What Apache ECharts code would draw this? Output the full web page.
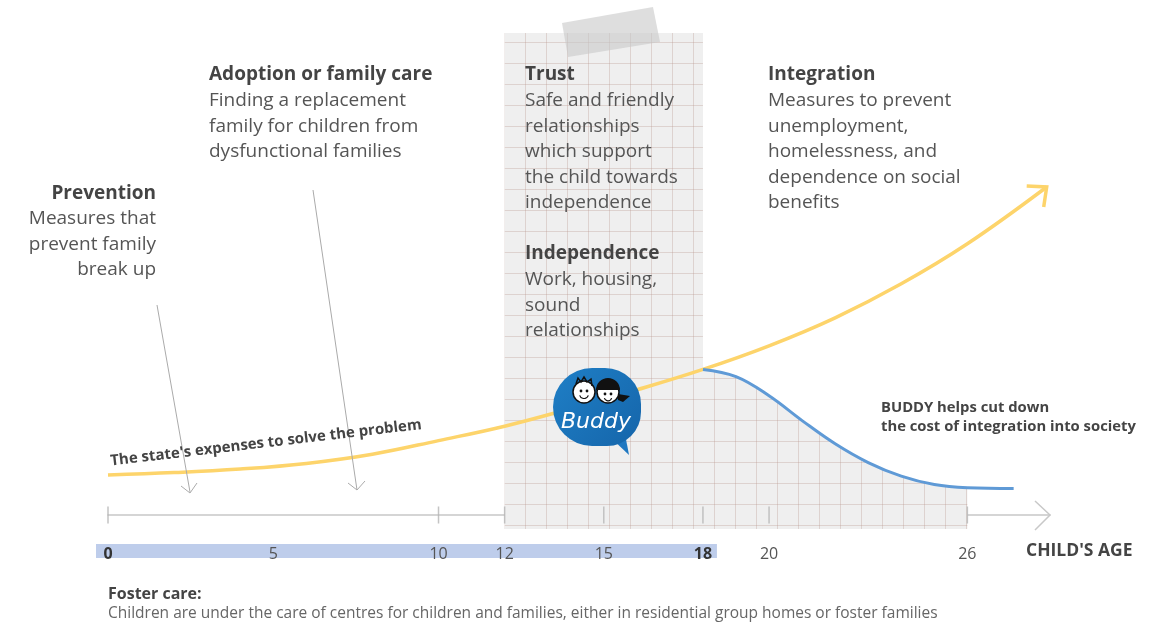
<!DOCTYPE html>
<html><head><meta charset="utf-8">
<script src="https://cdn.jsdelivr.net/npm/echarts@6/dist/echarts.min.js"></script>
<style>html,body{margin:0;padding:0;background:#fff}#c{width:1170px;height:624px}</style>
</head><body><div id="c"></div>
<script>
// ---- data ----
const yellowAges = [0, 2, 4, 6, 8, 10, 12, 14, 16, 18, 20, 22, 24, 26, 28.4];
const yellowCost = [10, 10.6, 11.5, 12.9, 15.2, 18.6, 22.2, 26.6, 31.3, 36.4, 42.3, 49.3, 57.8, 67.8, 82];
const blueAges = [18, 19, 20, 21, 22, 23, 24, 25, 26, 27.4];
const blueCost = [36.4, 34.6, 29.8, 23.6, 17.8, 13.1, 9.7, 7.6, 6.8, 6.6];
const tickAges = [0, 10, 12, 15, 18, 20, 26];
const labelAges = [0, 5, 10, 12, 15, 18, 20, 26];
const boldAges = [0, 18];
const buddyStart = 12, buddyEnd = 18, paperEnd = 26;

const FONT = '"Open Sans", Lato, sans-serif';

// grid-paper pattern
const pc = document.createElement('canvas'); pc.width = 21; pc.height = 21;
const g = pc.getContext('2d');
g.fillStyle = '#efefef'; g.fillRect(0, 0, 21, 21);
g.strokeStyle = 'rgba(185,150,140,0.32)'; g.lineWidth = 1;
g.beginPath(); g.moveTo(0.5, 0); g.lineTo(0.5, 21); g.moveTo(0, 0.5); g.lineTo(21, 0.5); g.stroke();
const paper = { image: pc, repeat: 'repeat' };

const yellowData = yellowAges.map((a, i) => [a, yellowCost[i]]);
const blueData = blueAges.map((a, i) => [a, blueCost[i]]);
const fillData = blueData.filter(d => d[0] <= paperEnd);

const chart = echarts.init(document.getElementById('c'));
chart.setOption({
  animation: false,
  grid: { left: 108, right: 120, top: 33, bottom: 95 },
  xAxis: {
    type: 'value', min: 0, max: 28.5,
    splitLine: { show: false },
    axisTick: { show: false },
    axisLine: { show: true, onZero: true, lineStyle: { color: '#c8c8c8', width: 1.5 } },
    axisLabel: {
      customValues: labelAges, margin: 17, fontSize: 16, color: '#555', fontFamily: FONT,
      formatter: v => boldAges.includes(v) ? '{b|' + v + '}' : String(v),
      rich: { b: { fontWeight: 'bold', color: '#333', fontSize: 16, fontFamily: FONT } }
    }
  },
  yAxis: { type: 'value', min: -3.5, max: 120.5, show: false, splitLine: { show: false } },
  series: [
    {
      type: 'line', data: fillData, smooth: 0.4, showSymbol: false, z: 1, silent: true,
      lineStyle: { width: 0 }, areaStyle: { color: paper, opacity: 1, origin: 'start' },
      markArea: { silent: true, itemStyle: { color: paper, opacity: 1 },
        data: [[{ xAxis: buddyStart, yAxis: -3.5 }, { xAxis: buddyEnd, yAxis: 120.5 }]] }
    },
    {
      type: 'scatter', data: tickAges.map(a => [a, 0]), symbol: 'rect', symbolSize: [1.5, 17],
      itemStyle: { color: '#b5b5b5' }, z: 2, silent: true
    },
    {
      type: 'line', data: yellowData, smooth: 0.4, showSymbol: false, z: 3, silent: true,
      lineStyle: { color: '#fdd46b', width: 3.5 }
    },
    {
      type: 'line', data: blueData, smooth: 0.4, showSymbol: false, z: 4, silent: true,
      lineStyle: { color: '#5f9ad6', width: 3 }
    }
  ]
});

const px = p => chart.convertToPixel({ gridIndex: 0 }, p);
const axEnd = px([28.5, 0]);
const yEnd = px(yellowData[yellowData.length - 1]);
const b0 = px([0, 0]), b18 = px([buddyEnd, 0]);

function txt(x, y, text, o) {
  return Object.assign({ type: 'text', z: 20, silent: true,
    style: Object.assign({ x, y, text, fill: '#555', fontSize: 19, fontFamily: FONT,
      align: 'left', verticalAlign: 'middle', lineHeight: 25.5 }, o || {}) });
}
function head(x, y, text, o) { return txt(x, y, text, Object.assign({ fill: '#444', fontWeight: 'bold' }, o || {})); }
function body(x, yFirst, text, o) { return txt(x, yFirst - 12.75, text, Object.assign({ verticalAlign: 'top' }, o || {})); }

const graphics = [
  // blue highlight band behind labels 0..18
  { type: 'rect', z: -10, silent: true, shape: { x: b0[0] - 12, y: 544, width: b18[0] - b0[0] + 26, height: 14 },
    style: { fill: 'rgba(168,188,228,0.75)' } },
  // tape
  { type: 'polygon', z: 15, silent: true, shape: { points: [[562, 23], [653, 7], [660, 42], [568, 57]] },
    style: { fill: 'rgba(200,200,200,0.6)' } },
  // axis arrow head
  { type: 'polyline', z: 5, silent: true,
    shape: { points: [[axEnd[0] - 15, axEnd[1] - 14], [axEnd[0], axEnd[1]], [axEnd[0] - 15, axEnd[1] + 15]] },
    style: { stroke: '#c8c8c8', lineWidth: 1.5, fill: null } },
  // yellow arrow head
  { type: 'polyline', z: 5, silent: true,
    shape: { points: [[yEnd[0] - 20, yEnd[1] - 1], [yEnd[0], yEnd[1]], [yEnd[0] - 3, yEnd[1] + 20]] },
    style: { stroke: '#fdd46b', lineWidth: 3.5, fill: null } },
  // grey pointer arrows
  { type: 'polyline', z: 5, silent: true, shape: { points: [[157, 305], [190, 492]] }, style: { stroke: '#aaa', lineWidth: 1, fill: null } },
  { type: 'polyline', z: 5, silent: true, shape: { points: [[181, 486], [190, 493], [197, 483]] }, style: { stroke: '#aaa', lineWidth: 1, fill: null } },
  { type: 'polyline', z: 5, silent: true, shape: { points: [[313, 190], [357, 490]] }, style: { stroke: '#aaa', lineWidth: 1, fill: null } },
  { type: 'polyline', z: 5, silent: true, shape: { points: [[348, 483], [357, 490], [365, 481]] }, style: { stroke: '#aaa', lineWidth: 1, fill: null } },

  // texts
  head(209, 75, 'Adoption or family care'),
  body(209, 101, 'Finding a replacement\nfamily for children from\ndysfunctional families'),
  head(156, 194, 'Prevention', { align: 'right' }),
  body(156, 219, 'Measures that\nprevent family\nbreak up', { align: 'right' }),
  head(525, 75, 'Trust'),
  body(525, 101, 'Safe and friendly\nrelationships\nwhich support\nthe child towards\nindependence'),
  head(525, 254, 'Independence'),
  body(525, 280, 'Work, housing,\nsound\nrelationships'),
  head(768, 75, 'Integration'),
  body(768, 101, 'Measures to prevent\nunemployment,\nhomelessness, and\ndependence on social\nbenefits'),
  txt(881, 398, 'BUDDY helps cut down\nthe cost of integration into society',
      { fill: '#444', fontWeight: 'bold', fontSize: 14.8, verticalAlign: 'top', lineHeight: 19 }),
  txt(1026, 551, "CHILD'S AGE", { fill: '#444', fontWeight: 'bold', fontSize: 17.5 }),
  txt(108, 594, 'Foster care:', { fill: '#444', fontWeight: 'bold', fontSize: 16 }),
  txt(108, 614, 'Children are under the care of centres for children and families, either in residential group homes or foster families',
      { fill: '#666', fontSize: 15.5 }),
  { type: 'text', z: 20, silent: true, x: 266, y: 443, rotation: 6.7 * Math.PI / 180,
    style: { x: 0, y: 0, text: "The state's expenses to solve the problem", fill: '#444', fontWeight: 'bold',
      fontSize: 15, fontFamily: FONT, align: 'center', verticalAlign: 'middle' } },

  // Buddy logo
  { type: 'group', z: 30, x: 597, y: 408, silent: true, children: [
    { type: 'polygon', z: 30, shape: { points: [[12, 28], [32, 47], [28, 26]] }, style: { fill: '#1f78c1' } },
    { type: 'rect', z: 30, shape: { x: -44, y: -40, width: 88, height: 78, r: [40, 36, 34, 40] },
      style: { fill: new echarts.graphic.LinearGradient(0, 0, 1, 1, [{ offset: 0, color: '#1f7fc6' }, { offset: 1, color: '#1565aa' }]) } },
    // boy face
    { type: 'circle', z: 31, shape: { cx: -13, cy: -16, r: 11 }, style: { fill: '#fff', stroke: '#111', lineWidth: 1.5 } },
    { type: 'polyline', z: 32, shape: { points: [[-21, -24], [-19, -30], [-16, -26], [-13, -31], [-10, -26], [-6, -29], [-5, -22]] }, style: { stroke: '#111', lineWidth: 1.5, fill: null } },
    { type: 'circle', z: 32, shape: { cx: -16, cy: -17, r: 1.4 }, style: { fill: '#111' } },
    { type: 'circle', z: 32, shape: { cx: -10, cy: -17, r: 1.4 }, style: { fill: '#111' } },
    { type: 'arc', z: 32, shape: { cx: -13, cy: -14, r: 4.5, startAngle: 0.3, endAngle: Math.PI - 0.3 }, style: { stroke: '#111', lineWidth: 1.2, fill: null } },
    // girl face
    { type: 'circle', z: 31, shape: { cx: 11, cy: -16, r: 11 }, style: { fill: '#fff', stroke: '#111', lineWidth: 1.5 } },
    { type: 'sector', z: 32, shape: { cx: 11, cy: -18, r: 12, r0: 0, startAngle: Math.PI, endAngle: 2 * Math.PI }, style: { fill: '#111' } },
    { type: 'polygon', z: 32, shape: { points: [[21, -14], [33, -12], [26, -6], [21, -8]] }, style: { fill: '#111' } },
    { type: 'circle', z: 32, shape: { cx: 8, cy: -14, r: 1.4 }, style: { fill: '#111' } },
    { type: 'circle', z: 32, shape: { cx: 14, cy: -14, r: 1.4 }, style: { fill: '#111' } },
    { type: 'arc', z: 32, shape: { cx: 11, cy: -11, r: 3.8, startAngle: 0.3, endAngle: Math.PI - 0.3 }, style: { stroke: '#111', lineWidth: 1.2, fill: null } },
    { type: 'text', z: 33, style: { x: -1, y: 14, text: 'Buddy', fill: '#fff', fontSize: 22, fontStyle: 'italic',
      fontFamily: '"DejaVu Sans", sans-serif', align: 'center', verticalAlign: 'middle' } }
  ] }
];
chart.setOption({ graphic: graphics });
</script></body></html>
